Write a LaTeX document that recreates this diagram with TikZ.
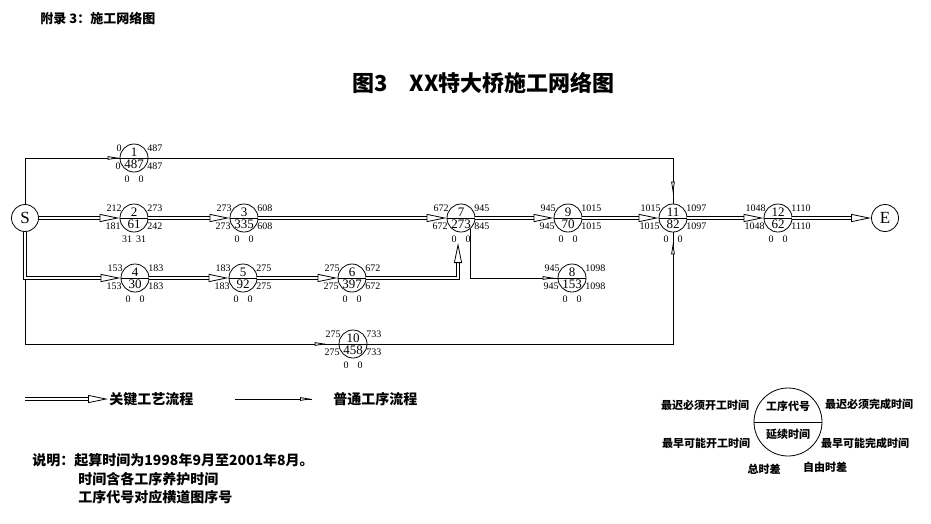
\documentclass[tikz,border=0pt]{standalone}
\usepackage{fontspec}
\setmainfont{Liberation Serif}
\newfontfamily\cjk{Noto Sans CJK SC}
\usetikzlibrary{arrows.meta}
\begin{document}
\begin{tikzpicture}[x=1pt, y=-1pt, line width=0.8pt,
  job/.style={circle, draw, minimum size=28pt, inner sep=0pt},
  term/.style={circle, draw, minimum size=27pt, inner sep=0pt, font=\fontsize{17}{17}\selectfont},
  big/.style={inner sep=0pt, font=\fontsize{13}{13}\selectfont},
  tag/.style={inner sep=0pt, font=\fontsize{10}{10}\selectfont},
  cn/.style={inner sep=0pt, font=\cjk\bfseries\fontsize{#1}{#1}\selectfont},
  crit/.style={double, double distance=2.6pt, line width=0.8pt, -{Triangle[open, length=20pt, width=8pt]}},
  flow/.style={draw, postaction={draw, shorten >=#1, -{Triangle[open, fill=white, length=12pt, width=3.5pt]}}},
  flow/.default=0pt]
\useasboundingbox (0,0) rectangle (931,523);

\node[cn=13, anchor=west] (app) at (40,18) {附录 3：施工网络图};
\node[cn=22, anchor=west] (title) at (352,83) {图3\quad XX特大桥施工网络图};

% start and end
\node[term] (S) at (25,218) {S};
\node[term] (E) at (885,218) {E};

% jobs: number/x/y/duration/LS/LF/ES/EF/TF/FF
\foreach \n/\x/\y/\d/\ls/\lf/\es/\ef/\tf/\ff in {
  1/134/158/487/0/487/0/487/0/0,
  2/134/218/61/212/273/181/242/31/31,
  3/244/218/335/273/608/273/608/0/0,
  4/135/278/30/153/183/153/183/0/0,
  5/243/278/92/183/275/183/275/0/0,
  6/352/278/397/275/672/275/672/0/0,
  7/461/218/273/672/945/672/845/0/0,
  8/572/278/153/945/1098/945/1098/0/0,
  9/568/218/70/945/1015/945/1015/0/0,
  10/353/344/458/275/733/275/733/0/0,
  11/673/218/82/1015/1097/1015/1097/0/0,
  12/778/218/62/1048/1110/1048/1110/0/0}
{
  \node[job] (n\n) at (\x,\y) {};
  \draw (n\n.west) -- (n\n.east);
  \node[big, anchor=south] at ([yshift=1pt]n\n.center) {\n};
  \node[big, anchor=north] at ([yshift=-1.5pt]n\n.center) {\d};
  \node[tag, anchor=east] at ([xshift=-12pt, yshift=10pt]n\n.center) {\ls};
  \node[tag, anchor=west] at ([xshift=13pt, yshift=10pt]n\n.center) {\lf};
  \node[tag, anchor=east] at ([xshift=-13pt, yshift=-8pt]n\n.center) {\es};
  \node[tag, anchor=west] at ([xshift=13pt, yshift=-8pt]n\n.center) {\ef};
  \node[tag] at ([xshift=-7pt, yshift=-21pt]n\n.center) {\tf};
  \node[tag] at ([xshift=7pt, yshift=-21pt]n\n.center) {\ff};
}

% ordinary flow
\draw[flow] (S.north) |- (n1.west);
\draw[flow=10pt] (n1.east) -| (n11.north);
\draw[flow=12pt] (S.south) |- (n10.west);
\draw[flow=10pt] (n10.east) -| (n11.south);
\draw[flow=3pt] (n7.-50) |- (n8.west);

% critical flow
\coordinate (up7) at (458,243);
\draw[crit] (S) -- (n2);
\draw[crit] (n2) -- (n3);
\draw[crit] (n3) -- (n7);
\draw[crit] (n7) -- (n9);
\draw[crit] (n9) -- (n11);
\draw[crit] (n11) -- (n12);
\draw[crit] (n12) -- (E);
\draw[crit] (S.south) |- (n4.west);
\draw[crit] (n4) -- (n5);
\draw[crit] (n5) -- (n6);
\draw[crit] (n6.east) -| (up7);

% legend
\coordinate (k1) at (25,399);
\coordinate (k2) at (108,399);
\coordinate (k3) at (235,399);
\coordinate (k4) at (312,399);
\draw[crit] (k1) -- (k2);
\node[cn=14, anchor=west] at (109,399) {关键工艺流程};
\draw[flow] (k3) -- (k4);
\node[cn=14, anchor=west] at (333,399) {普通工序流程};

\node[cn=14, anchor=west] (note) at (32,460) {说明：起算时间为1998年9月至2001年8月。};
\node[cn=14, anchor=west] at (78,479) {时间含各工序养护时间};
\node[cn=14, anchor=west] at (78,497) {工序代号对应横道图序号};

\node[job, minimum size=68pt] (key) at (788,422) {};
\draw (key.west) -- (key.east);
\node[cn=11] at (788,406) {工序代号};
\node[cn=11] at (788,434) {延续时间};
\node[cn=11] at (705,405) {最迟必须开工时间};
\node[cn=11] at (869,404) {最迟必须完成时间};
\node[cn=11] at (706,443) {最早可能开工时间};
\node[cn=11] at (865,443) {最早可能完成时间};
\node[cn=11] at (764,469) {总时差};
\node[cn=11] at (825,467) {自由时差};
\end{tikzpicture}
\end{document}
